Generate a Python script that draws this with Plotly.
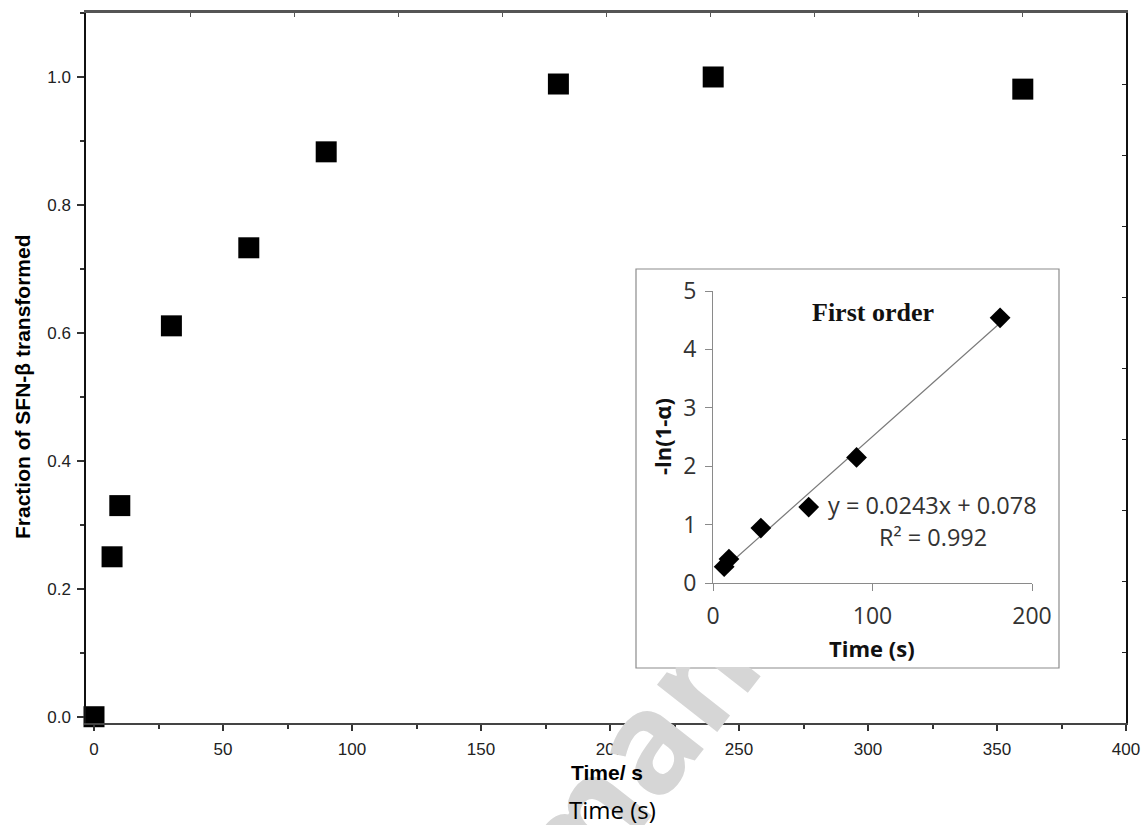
import plotly.graph_objects as go

# Main plot data
time_s = [0, 7, 10, 30, 60, 90, 180, 240, 360]
fraction = [0.0, 0.25, 0.33, 0.611, 0.733, 0.883, 0.989, 1.0, 0.981]

# Inset data (first order)
inset_time = [7, 10, 30, 60, 90, 180]
inset_lny = [0.28, 0.41, 0.94, 1.30, 2.15, 4.54]
fit_slope = 0.0243
fit_intercept = 0.078

main_xticks = [0, 50, 100, 150, 200, 250, 300, 350, 400]
main_yticks = [0.0, 0.2, 0.4, 0.6, 0.8, 1.0]
inset_xticks = [0, 100, 200]
inset_yticks = [0, 1, 2, 3, 4, 5]

W, H = 1147, 825
def px(x):
    return x / W
def py(y):
    return 1 - y / H

fit_x = [min(inset_time), max(inset_time)]
fit_y = [fit_slope * v + fit_intercept for v in fit_x]

fig = go.Figure()
fig.add_trace(go.Scatter(
    x=time_s, y=fraction, mode="markers",
    marker=dict(symbol="square", size=21, color="black"),
    showlegend=False, cliponaxis=False))
fig.add_trace(go.Scatter(
    x=[], y=[], xaxis="x3", yaxis="y3", showlegend=False, hoverinfo="skip"))
fig.add_trace(go.Scatter(
    x=fit_x, y=fit_y, mode="lines", xaxis="x2", yaxis="y2",
    line=dict(color="#7a7a7a", width=1.2), showlegend=False))
fig.add_trace(go.Scatter(
    x=inset_time, y=inset_lny, mode="markers", xaxis="x2", yaxis="y2",
    marker=dict(symbol="diamond", size=16, color="black"),
    showlegend=False, cliponaxis=False))

main_font = dict(family="Liberation Sans, Arial", size=17, color="#222")
inset_font = dict(family="Open Sans", size=23, color="#333")

fig.update_layout(
    width=W, height=H,
    margin=dict(l=0, r=0, t=0, b=0, autoexpand=False),
    paper_bgcolor="white", plot_bgcolor="white",
    xaxis=dict(domain=[px(86), px(1126)], range=[-3.1, 400],
               tickvals=main_xticks, ticks="outside", ticklen=6, tickwidth=1.5,
               tickcolor="#333", showline=True, linecolor="#444", linewidth=2,
               showgrid=False, zeroline=False, tickfont=main_font,
               ticklabelstandoff=4, automargin=False,
               minor=dict(dtick=25, tick0=0, ticks="outside", ticklen=4,
                          tickcolor="#333", showgrid=False)),
    yaxis=dict(domain=[py(723), py(13)], range=[-0.0098, 1.1],
               tickvals=main_yticks, tickformat=".1f", ticks="outside",
               ticklen=7, tickwidth=1.5, tickcolor="#333", showline=True,
               linecolor="#111", linewidth=1.5, showgrid=False, zeroline=False,
               tickfont=main_font, ticklabelstandoff=3, automargin=False,
               minor=dict(dtick=0.1, tick0=0, ticks="outside", ticklen=4,
                          tickcolor="#333", showgrid=False)),
    xaxis3=dict(overlaying="x", anchor="y3", side="top", range=[0, 10],
                dtick=1, ticks="inside", ticklen=4, tickcolor="#555",
                showline=True, linecolor="#555", linewidth=2.5,
                showticklabels=False, showgrid=False, zeroline=False),
    yaxis3=dict(overlaying="y", anchor="x3", side="right", range=[0, 10],
                dtick=1, ticks="inside", ticklen=4, tickcolor="#222",
                showline=True, linecolor="#111", linewidth=2,
                showticklabels=False, showgrid=False, zeroline=False),
    xaxis2=dict(domain=[px(713), px(1032)], anchor="y2", range=[0, 200],
                tickvals=inset_xticks, ticks="outside", ticklen=7,
                tickcolor="#8a8a8a", showline=True, linecolor="#8a8a8a",
                linewidth=1, showgrid=False, zeroline=False,
                tickfont=inset_font, ticklabelstandoff=5),
    yaxis2=dict(domain=[py(583), py(291)], anchor="x2", range=[0, 5],
                tickvals=inset_yticks, ticks="outside", ticklen=7,
                tickcolor="#8a8a8a", showline=True, linecolor="#8a8a8a",
                linewidth=1, showgrid=False, zeroline=False,
                tickfont=inset_font, ticklabelstandoff=4),
    shapes=[dict(type="rect", xref="paper", yref="paper",
                 x0=px(636), x1=px(1059), y0=py(668), y1=py(269),
                 line=dict(color="#8c8c8c", width=1.2), layer="above")],
)

ann = []
# watermark (partly outside the figure and behind the inset, as in the reference)
ann.append(dict(text="<b>man</b>", xref="paper", yref="paper",
                x=px(627), y=py(758), showarrow=False, textangle=-52,
                font=dict(family="Open Sans", size=140, color="#d6d6d6"),
                xanchor="center", yanchor="middle"))
# white cover so the watermark stays behind the inset panel
ann.append(dict(text=" ", xref="paper", yref="paper",
                x=px(638), y=py(666.5), xanchor="left", yanchor="bottom",
                width=1058 - 638, height=666.5 - 627, bgcolor="white",
                borderpad=0, borderwidth=0, showarrow=False))
ann.append(dict(text="<b>Fraction of SFN-β transformed</b>", xref="paper",
                yref="paper", x=px(22), y=py(387), showarrow=False,
                textangle=-90, font=dict(family="Liberation Sans, Arial",
                                         size=21, color="black"),
                xanchor="center", yanchor="middle"))
ann.append(dict(text="<b>Time/ s</b>", xref="paper", yref="paper",
                x=px(607), y=py(772), showarrow=False,
                font=dict(family="Liberation Sans, Arial", size=21,
                          color="black"),
                xanchor="center", yanchor="middle"))
ann.append(dict(text="Time (s)", xref="paper", yref="paper",
                x=px(612), y=py(809), showarrow=False,
                font=dict(family="Open Sans", size=24, color="black"),
                xanchor="center", yanchor="middle"))
ann.append(dict(text="<b>First order</b>", xref="paper", yref="paper",
                x=px(873), y=py(312), showarrow=False,
                font=dict(family="Liberation Serif, Times New Roman", size=26,
                          color="#111"),
                xanchor="center", yanchor="middle"))
ann.append(dict(text="y = 0.0243x + 0.078", xref="paper", yref="paper",
                x=px(933), y=py(505), showarrow=False,
                font=dict(family="Open Sans", size=23.5, color="#333"),
                xanchor="center", yanchor="middle"))
ann.append(dict(text="R² = 0.992", xref="paper", yref="paper",
                x=px(933), y=py(537), showarrow=False,
                font=dict(family="Open Sans", size=23.5, color="#333"),
                xanchor="center", yanchor="middle"))
ann.append(dict(text="<b>-ln(1-α)</b>", xref="paper", yref="paper",
                x=px(662), y=py(437), showarrow=False, textangle=-90,
                font=dict(family="Open Sans", size=22, color="#111"),
                xanchor="center", yanchor="middle"))
ann.append(dict(text="<b>Time (s)</b>", xref="paper", yref="paper",
                x=px(872), y=py(648), showarrow=False,
                font=dict(family="Open Sans", size=22, color="#111"),
                xanchor="center", yanchor="middle"))
fig.update_layout(annotations=ann)

fig.write_html("out.html",
               config={"displayModeBar": False},
               post_script="document.body.style.margin='0';"
                           "document.body.style.padding='0';")
